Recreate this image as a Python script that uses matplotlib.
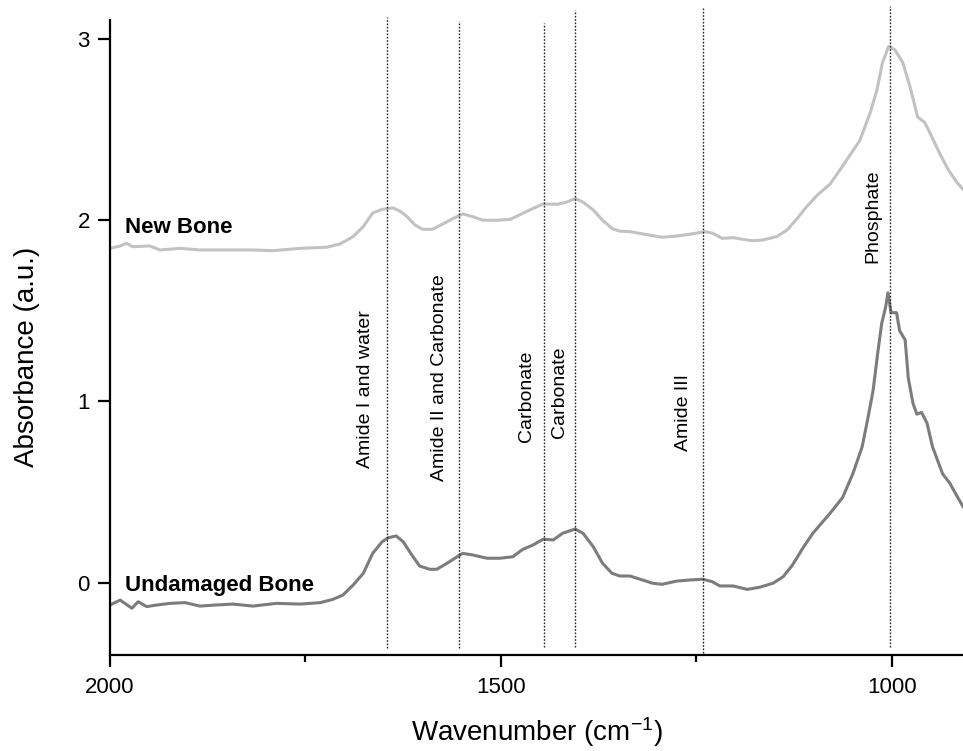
import matplotlib
matplotlib.use("Agg")
import matplotlib.pyplot as plt
from matplotlib.ticker import FixedLocator

plt.rcParams['font.family'] = ['Liberation Sans', 'DejaVu Sans']
plt.rcParams['mathtext.fontset'] = 'custom'
plt.rcParams['mathtext.rm'] = 'Liberation Sans'
plt.rcParams['mathtext.it'] = 'Liberation Sans:italic'
plt.rcParams['mathtext.bf'] = 'Liberation Sans:bold'
plt.rcParams['mathtext.default'] = 'regular'

# ---- data ----
undamaged_wn = [2000, 1987, 1972, 1964, 1953, 1940, 1923, 1904, 1885, 1864, 1843, 1817, 1787, 1757,
                1731, 1715, 1702, 1689, 1676, 1664, 1652, 1644, 1634, 1625, 1614, 1604, 1591, 1582,
                1569, 1556, 1549, 1536, 1518, 1501, 1485, 1472, 1459, 1446, 1433, 1421, 1405, 1395,
                1382, 1370, 1358, 1348, 1335, 1322, 1306, 1294, 1275, 1258, 1242, 1230, 1220, 1203,
                1185, 1169, 1152, 1139, 1127, 1114, 1101, 1079, 1063, 1050, 1038, 1031, 1024, 1018,
                1013, 1008, 1005, 1001, 994, 990, 983, 979, 973, 968, 962, 955, 948, 935, 926, 917, 909]
undamaged_abs = [-0.123, -0.096, -0.141, -0.105, -0.132, -0.123, -0.114, -0.110, -0.129, -0.123, -0.118,
                 -0.129, -0.114, -0.118, -0.110, -0.092, -0.068, -0.013, 0.052, 0.162, 0.226, 0.248,
                 0.258, 0.226, 0.153, 0.092, 0.074, 0.074, 0.107, 0.143, 0.162, 0.153, 0.135, 0.135,
                 0.143, 0.184, 0.208, 0.240, 0.236, 0.273, 0.296, 0.273, 0.199, 0.107, 0.052, 0.037,
                 0.037, 0.019, -0.003, -0.009, 0.009, 0.015, 0.019, 0.006, -0.018, -0.018, -0.037,
                 -0.025, -0.003, 0.033, 0.098, 0.190, 0.273, 0.383, 0.47, 0.60, 0.75, 0.90, 1.06, 1.27,
                 1.43, 1.52, 1.60, 1.49, 1.49, 1.39, 1.34, 1.13, 0.99, 0.93, 0.94, 0.88, 0.75, 0.60,
                 0.55, 0.48, 0.42]

newbone_wn = [2000, 1987, 1979, 1971, 1949, 1936, 1910, 1885, 1851, 1817, 1792, 1757, 1723, 1706,
              1689, 1676, 1664, 1652, 1638, 1629, 1620, 1610, 1600, 1588, 1574, 1561, 1549, 1536,
              1523, 1505, 1488, 1476, 1463, 1446, 1428, 1416, 1405, 1395, 1382, 1370, 1357, 1348,
              1335, 1318, 1294, 1275, 1258, 1239, 1229, 1217, 1203, 1191, 1178, 1165, 1147, 1134,
              1121, 1109, 1095, 1079, 1066, 1041, 1028, 1019, 1012, 1004, 996, 986, 977, 967, 958,
              951, 939, 928, 917, 909]
newbone_abs = [1.845, 1.858, 1.873, 1.854, 1.858, 1.836, 1.845, 1.836, 1.836, 1.836, 1.832, 1.845,
               1.851, 1.869, 1.91, 1.965, 2.04, 2.06, 2.068, 2.05, 2.02, 1.974, 1.95, 1.95, 1.98,
               2.01, 2.035, 2.02, 2.0, 2.0, 2.005, 2.03, 2.057, 2.09, 2.088, 2.10, 2.12, 2.10, 2.057,
               2.0, 1.952, 1.94, 1.937, 1.924, 1.906, 1.913, 1.923, 1.937, 1.928, 1.90, 1.904, 1.895,
               1.887, 1.891, 1.91, 1.946, 2.01, 2.075, 2.14, 2.20, 2.28, 2.44, 2.59, 2.72, 2.87, 2.96,
               2.94, 2.87, 2.74, 2.57, 2.54, 2.48, 2.37, 2.28, 2.21, 2.17]

band_labels = ["Amide I and water", "Amide II and Carbonate", "Carbonate", "Carbonate",
               "Amide III", "Phosphate"]
band_wn = [1646, 1554, 1445, 1405, 1241, 1003]
band_top = [3.12, 3.10, 3.09, 3.16, 3.17, 3.18]
band_bottom = [-0.36, -0.36, -0.355, -0.355, -0.39, -0.355]

series_labels = ["Undamaged Bone", "New Bone"]
x_ticks = [2000, 1500, 1000]
x_minor = [1750, 1250]
y_ticks = [0, 1, 2, 3]

# ---- figure ----
fig = plt.figure(figsize=(9.63, 7.51), dpi=100)
ax = fig.add_axes([110/963, 1-655/751, 853/963, 635/751])

ax.plot(newbone_wn, newbone_abs, color='#c2c2c2', lw=2.2, solid_joinstyle='round')
ax.plot(undamaged_wn, undamaged_abs, color='#7c7c7c', lw=2.2, solid_joinstyle='round')

for wn, top, bot in zip(band_wn, band_top, band_bottom):
    ax.plot([wn, wn], [bot, top], color='#222222', lw=1.0, ls=(0, (1.2, 1.2)), clip_on=False)

# band labels (rotated), placed just left of each line
label_pos = [(1673, 1.069), (1578, 1.132), (1467, 1.030), (1425, 1.050), (1267, 0.939), (1024, 2.021)]
for txt, (lx, ly) in zip(band_labels, label_pos):
    ax.text(lx, ly, txt, rotation=90, ha='center', va='center', fontsize=14, color='black')

ax.text(1981, 1.96, series_labels[1], fontsize=16, fontweight='bold', ha='left', va='center')
ax.text(1981, -0.018, series_labels[0], fontsize=16, fontweight='bold', ha='left', va='center')

ax.set_xlim(2000, 909)
ax.set_ylim(-0.399, 3.105)

ax.set_xticks(x_ticks)
ax.xaxis.set_minor_locator(FixedLocator(x_minor))
ax.set_yticks(y_ticks)
ax.set_xticklabels([str(v) for v in x_ticks])
ax.set_yticklabels([str(v) for v in y_ticks])

for s in ['top', 'right']:
    ax.spines[s].set_visible(False)
for s in ['left', 'bottom']:
    ax.spines[s].set_linewidth(1.6)

ax.tick_params(axis='both', which='major', direction='out', length=8.5, width=1.6, labelsize=16)
ax.tick_params(axis='x', which='major', pad=7)
ax.tick_params(axis='y', which='major', pad=6)
ax.tick_params(axis='x', which='minor', direction='out', length=5, width=1.6)

ax.set_xlabel("Wavenumber (cm$^{\\mathrm{-1}}$)", fontsize=20)
ax.xaxis.set_label_coords(0.5, -0.122)
ax.xaxis.label.set_va('center')
ax.set_ylabel("Absorbance (a.u.)", fontsize=20)
ax.yaxis.set_label_coords(-0.097, 0.469)
ax.yaxis.label.set_va('center')

fig.savefig("out.png", dpi=100)
